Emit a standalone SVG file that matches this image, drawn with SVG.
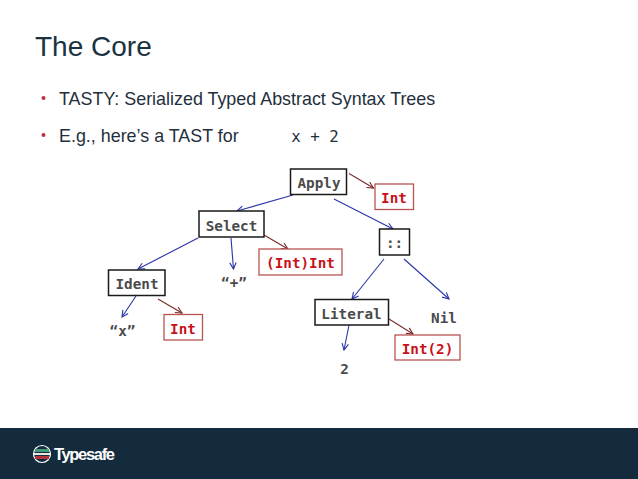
<svg xmlns="http://www.w3.org/2000/svg" width="638" height="479" viewBox="0 0 638 479">
<style>
.sans{font-family:"Liberation Sans",Arial,sans-serif}
.mono{font-family:"DejaVu Sans Mono","Liberation Mono",monospace;font-size:14.300px;font-weight:bold;fill:#4a4a4a;text-anchor:middle}
.red{fill:#c8101a}
.box{fill:#fff;stroke:#1a1a1a;stroke-width:1.5}
.rbox{fill:#fff;stroke:#b85450;stroke-width:1.3}
.blue{fill:none;stroke:#2a35a8;stroke-width:1.1;marker-end:url(#ab)}
.brown{fill:none;stroke:#7a2a28;stroke-width:1.1;marker-end:url(#ar)}
.bt{font-size:17.900px;fill:#1f2f3d}
</style>
<defs>
<marker id="ab" viewBox="0 0 10 10" refX="9" refY="5" markerWidth="8" markerHeight="8" markerUnits="userSpaceOnUse" orient="auto"><path d="M1 1L9 5L1 9" fill="none" stroke="#2a35a8" stroke-width="1.4"/></marker>
<marker id="ar" viewBox="0 0 10 10" refX="9" refY="5" markerWidth="8" markerHeight="8" markerUnits="userSpaceOnUse" orient="auto"><path d="M1 1L9 5L1 9" fill="none" stroke="#7a2a28" stroke-width="1.4"/></marker>
</defs>
<rect width="638" height="479" fill="#fff"/>
<text class="sans" x="35" y="56" font-size="28" fill="#1b3240">The Core</text>
<circle cx="43.500" cy="98" r="2" fill="#b5343a"/>
<circle cx="43.500" cy="135" r="2" fill="#b5343a"/>
<text class="sans bt" x="59" y="105">TASTY: Serialized Typed Abstract Syntax Trees</text>
<text class="sans bt" x="59" y="142">E.g., here’s a TAST for</text>
<text class="mono" x="315" y="142" style="font-size:15.800px;font-weight:normal;fill:#1f2f3d">x + 2</text>
<g id="connectors">
<path class="brown" d="M349 173.500L373.500 188"/>
<path class="blue" d="M293 195L237 211"/>
<path class="blue" d="M334 199L393 229"/>
<path class="blue" d="M198 238L138 269"/>
<path class="blue" d="M231 238L233.500 269"/>
<path class="brown" d="M264 235L288 249"/>
<path class="blue" d="M384 259L352 299"/>
<path class="blue" d="M404 259L449 299"/>
<path class="blue" d="M349 325L344 350"/>
<path class="brown" d="M389 319L413 334"/>
<path class="blue" d="M136 296L122 317"/>
<path class="brown" d="M158 299L182 313"/>
</g>
<g id="apply"><rect class="box" x="290.500" y="169" width="56" height="25.500"/><text class="mono" x="319" y="188">Apply</text></g>
<g id="int1"><rect class="rbox" x="375" y="184" width="38.500" height="25.500"/><text class="mono red" x="394" y="203">Int</text></g>
<g id="select"><rect class="box" x="199" y="211" width="65" height="26"/><text class="mono" x="231.500" y="231">Select</text></g>
<g id="intint"><rect class="rbox" x="259" y="249" width="83" height="26"/><text class="mono red" x="300.500" y="268">(Int)Int</text></g>
<g id="cons"><rect class="box" x="379.500" y="229" width="30" height="26"/><text class="mono" x="394.500" y="248">::</text></g>
<g id="ident"><rect class="box" x="108.500" y="270" width="56.500" height="25.500"/><text class="mono" x="137" y="289">Ident</text></g>
<g id="literal"><rect class="box" x="315" y="299.500" width="73.500" height="25.500"/><text class="mono" x="351.500" y="319">Literal</text></g>
<g id="nil"><text class="mono" x="444" y="323">Nil</text></g>
<g id="intx"><rect class="rbox" x="164" y="314.500" width="38.500" height="25.500"/><text class="mono red" x="183" y="334">Int</text></g>
<g id="int2"><rect class="rbox" x="395" y="335" width="65" height="25"/><text class="mono red" x="427.500" y="354">Int(2)</text></g>
<g id="plus"><text class="mono" x="234" y="288">“+”</text></g>
<g id="x"><text class="mono" x="122.500" y="336">“x”</text></g>
<g id="two"><text class="mono" x="344.500" y="374">2</text></g>
<g id="footer">
<rect y="428" width="638" height="51" fill="#132b3c"/>
<circle cx="42" cy="454" r="8.500" fill="#132b3c" stroke="#fff" stroke-width="1.200"/>
<rect x="35" y="449" width="14" height="3" fill="#3f9a78"/>
<rect x="34" y="453" width="16" height="2" fill="#e8e8e8"/>
<rect x="35" y="456" width="14" height="3" fill="#b5343a"/>
<text class="sans" x="54" y="460" font-size="16.500" font-weight="bold" fill="#fff" textLength="61">Typesafe</text>
</g>
</svg>
